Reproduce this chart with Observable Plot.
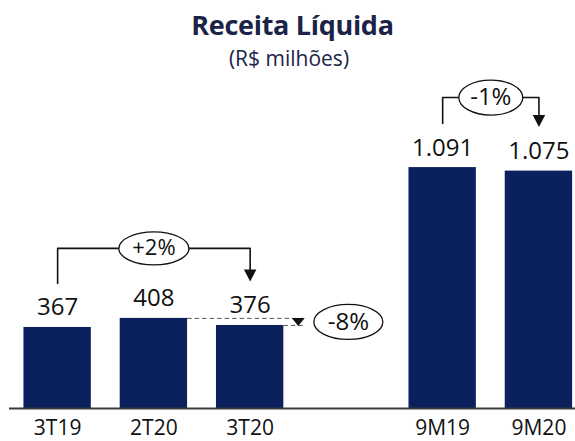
<!DOCTYPE html>
<html>
<head>
<meta charset="utf-8">
<script src="https://cdn.jsdelivr.net/npm/d3@7"></script>
<script src="https://cdn.jsdelivr.net/npm/@observablehq/plot@0.6"></script>
<style>
  html, body { margin: 0; padding: 0; background: #fff; }
  body { width: 575px; height: 441px; overflow: hidden; font-family: "Open Sans", sans-serif; }
  #header { position: relative; width: 575px; height: 74px; }
  #title { position: absolute; left: 0; width: 585px; top: 11px; text-align: center; font-size: 27px; line-height: 1; font-weight: 700; color: #1b2347; letter-spacing: -0.3px; }
  #subtitle { position: absolute; left: 0; width: 578px; top: 48px; text-align: center; font-size: 21px; line-height: 1; color: #1b2347; }
  #chart svg { display: block; }
</style>
</head>
<body>
<div id="header">
  <div id="title">Receita Líquida</div>
  <div id="subtitle">(R$ milhões)</div>
</div>
<div id="chart"></div>
<script>
// ---- data ----
const categories = ["3T19", "2T20", "3T20", "9M19", "9M20"];
const groups = ["trimestre", "trimestre", "trimestre", "9 meses", "9 meses"];
const values = [367, 408, 376, 1091, 1075];

// bracket annotations (variation between two bars)
const bracketFrom = ["3T19", "9M19"];
const bracketTo = ["3T20", "9M20"];
const bracketLabels = ["+2%", "-1%"];

// step annotation (quarter over quarter)
const stepFrom = "2T20";
const stepTo = "3T20";
const stepLabel = "-8%";

// ---- layout / style ----
const W = 575, H = 367, mT = 69, mB = 33, mL = 9, mR = 0;
const yMax = 1200;
const upp = yMax / (H - mT - mB);      // data units per pixel
const px = p => p * upp;
const barColor = "#0b215e";
const ink = "#111111";
const halfBar = 0.35;

const locale = d3.formatLocale({decimal: ",", thousands: ".", grouping: [3], currency: ["R$", ""]});
const fmt = locale.format(",d");

const groupOrder = Array.from(new Set(groups));
const data = categories.map((c, i) => ({
  cat: c,
  value: values[i],
  slot: i + groupOrder.indexOf(groups[i])
}));
const byCat = Object.fromEntries(data.map(d => [d.cat, d]));
const slotName = Object.fromEntries(data.map(d => [d.slot, d.cat]));

// ellipse & triangle symbols (pixel sizes)
const K = 0.5522848;
function ellipse(rx, ry) {
  return {draw(ctx) {
    ctx.moveTo(rx, 0);
    ctx.bezierCurveTo(rx, ry * K, rx * K, ry, 0, ry);
    ctx.bezierCurveTo(-rx * K, ry, -rx, ry * K, -rx, 0);
    ctx.bezierCurveTo(-rx, -ry * K, -rx * K, -ry, 0, -ry);
    ctx.bezierCurveTo(rx * K, -ry, rx, -ry * K, rx, 0);
    ctx.closePath();
  }};
}
function downTriangle(w, h) {
  return {draw(ctx) {
    ctx.moveTo(-w / 2, -h / 2);
    ctx.lineTo(w / 2, -h / 2);
    ctx.lineTo(0, h / 2);
    ctx.closePath();
  }};
}
const ellipseSize = {"+2%": [35, 16.5], "-1%": [32, 17.5], "-8%": [34.5, 17.5]};
const labelSize = {"+2%": 22, "-1%": 24, "-8%": 24};

// brackets
const brackets = bracketFrom.map((f, i) => {
  const a = byCat[f], b = byCat[bracketTo[i]];
  const top = d3.max(data.filter(d => d.slot >= a.slot && d.slot <= b.slot), d => d.value);
  return {a, b, label: bracketLabels[i], level: top + px(70)};
});
const bracketPts = brackets.flatMap(br => [
  {k: br.label, x: br.a.slot, y: br.a.value + px(44)},
  {k: br.label, x: br.a.slot, y: br.level},
  {k: br.label, x: br.b.slot, y: br.level},
  {k: br.label, x: br.b.slot, y: br.b.value + px(44) + px(11)}
]);

const marks = [
  Plot.rectY(data, {x1: d => d.slot - halfBar, x2: d => d.slot + halfBar, y: "value", fill: barColor}),
  Plot.ruleY([0], {stroke: "#3a3a3a", strokeWidth: 2}),
  Plot.axisX({ticks: data.map(d => d.slot), tickFormat: s => slotName[s], tickSize: 0, tickPadding: 12, fontSize: 21, fill: ink, label: null}),
  // brackets
  Plot.line(bracketPts, {x: "x", y: "y", z: "k", stroke: ink, strokeWidth: 1.6, curve: "linear"})
];
brackets.forEach(br => {
  marks.push(Plot.dot([br], {x: d => d.b.slot, y: d => d.b.value + px(44) + px(6), symbol: downTriangle(12.5, 12), r: 6, fill: ink, stroke: "none"}));
  const [rx, ry] = ellipseSize[br.label];
  marks.push(Plot.dot([br], {x: d => (d.a.slot + d.b.slot) / 2, y: "level", symbol: ellipse(rx, ry), r: 10, fill: "white", stroke: ink, strokeWidth: 1.3}));
  marks.push(Plot.text([br], {x: d => (d.a.slot + d.b.slot) / 2, y: "level", text: "label", fontSize: labelSize[br.label], fill: ink, lineAnchor: "middle"}));
});

// step annotation
const sa = byCat[stepFrom], sb = byCat[stepTo];
const stepEnd = sb.slot + 0.56;
marks.push(
  Plot.ruleY([sa, sb], {y: "value", x1: d => d.slot + halfBar, x2: stepEnd, stroke: "#555", strokeWidth: 1, strokeDasharray: "4.5,3"}),
  Plot.dot([{sa, sb}], {x: sb.slot + 0.5, y: (sa.value + sb.value) / 2, symbol: downTriangle(13, (sa.value - sb.value) / upp + 1), r: 6, fill: ink, stroke: "none"}),
  Plot.dot([{sa, sb}], {x: sb.slot + 1.02, y: (sa.value + sb.value) / 2, symbol: ellipse(...ellipseSize[stepLabel]), r: 10, fill: "white", stroke: ink, strokeWidth: 1.3}),
  Plot.text([stepLabel], {x: sb.slot + 1.02, y: (sa.value + sb.value) / 2, text: d => d, fontSize: labelSize[stepLabel], fill: ink, lineAnchor: "middle"})
);

// value labels
marks.push(Plot.text(data, {x: "slot", y: "value", text: d => fmt(d.value), dy: -12, lineAnchor: "bottom", fontSize: 24, fill: ink, stroke: "white", strokeWidth: 8}));

const chart = Plot.plot({
  width: W, height: H,
  marginTop: mT, marginBottom: mB, marginLeft: mL, marginRight: mR,
  x: {type: "linear", domain: [-0.5, (W - mL - mR) / 96.26 - 0.5], axis: null},
  y: {domain: [0, yMax], axis: null},
  style: {fontFamily: "'Open Sans', sans-serif", background: "white"},
  marks
});
document.getElementById("chart").appendChild(chart);
</script>
</body>
</html>
